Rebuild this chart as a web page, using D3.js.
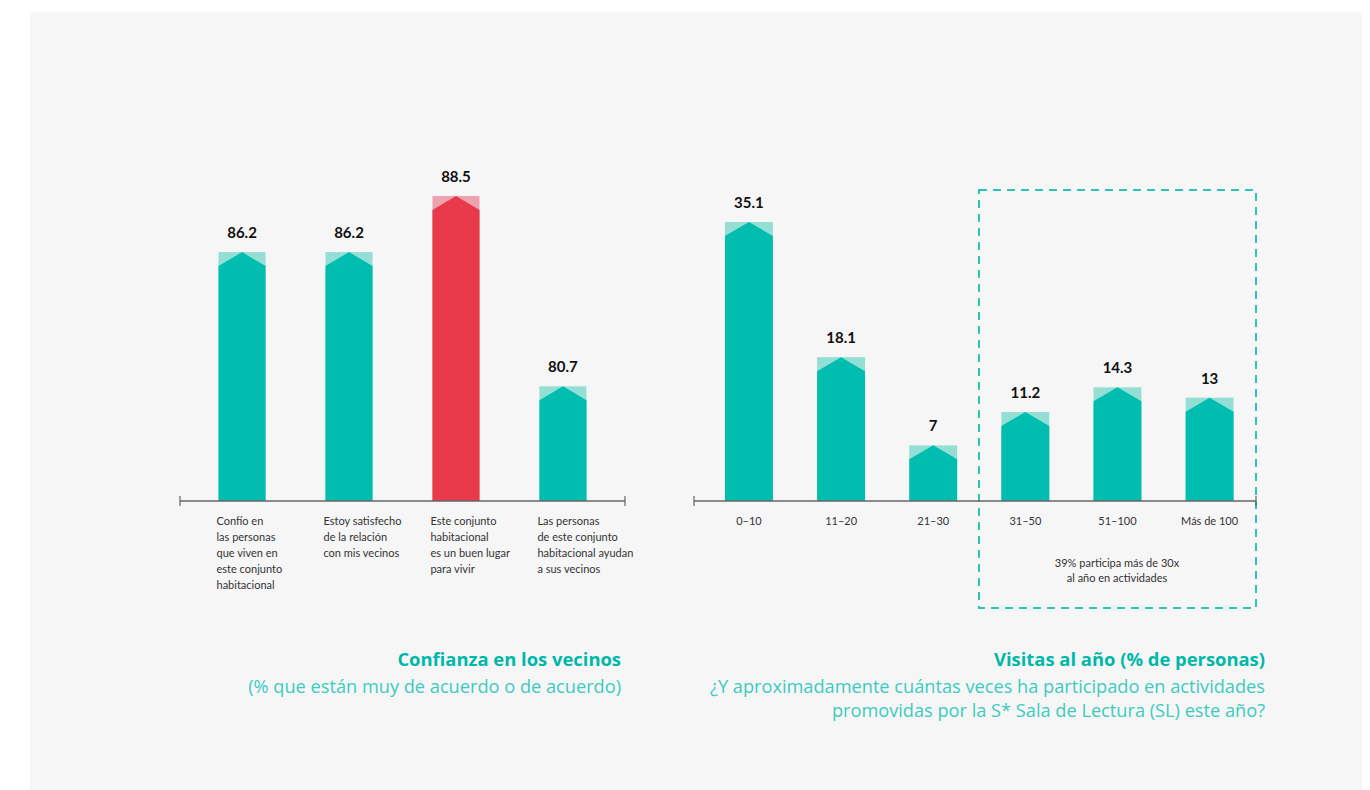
<!DOCTYPE html>
<html>
<head>
<meta charset="utf-8">
<script src="https://cdn.jsdelivr.net/npm/d3@7"></script>
<style>
  body { margin: 0; background: #fff; }
  svg { display: block; font-family: Lato, "Open Sans", sans-serif; }
</style>
</head>
<body>
<div id="chart"></div>
<script>
// datos - confianza
const confCats = [
  ["Confío en", "las personas", "que viven en", "este conjunto", "habitacional"],
  ["Estoy satisfecho", "de la relación", "con mis vecinos"],
  ["Este conjunto", "habitacional", "es un buen lugar", "para vivir"],
  ["Las personas", "de este conjunto", "habitacional ayudan", "a sus vecinos"]
];
const confVals = [86.2, 86.2, 88.5, 80.7];
const confHighlight = [false, false, true, false];

// datos - visitas
const visCats = ["0–10", "11–20", "21–30", "31–50", "51–100", "Más de 100"];
const visVals = [35.1, 18.1, 7, 11.2, 14.3, 13];

const width = 1370, height = 790;
const teal = "#00bdb0", tealLight = "#93dfd6";
const red = "#e83a4b", redLight = "#eca3ad";
const baseY = 501;

const svg = d3.select("#chart").append("svg")
  .attr("width", width).attr("height", height);

// fondo
svg.append("rect").attr("x", 30).attr("y", 12)
  .attr("width", 1332).attr("height", 778).attr("fill", "#f6f6f6");

// dibuja barra con "flecha" arriba
function drawBars(g, data, x, y, colorFn) {
  const bw = x.bandwidth();
  const bars = g.selectAll("g.bar").data(data).join("g").attr("class", "bar");
  bars.append("rect")
    .attr("x", d => x(d.i)).attr("y", d => y(d.v))
    .attr("width", bw).attr("height", d => baseY - y(d.v))
    .attr("fill", d => colorFn(d)[1]);
  bars.append("path")
    .attr("d", d => {
      const x0 = x(d.i), x1 = x0 + bw, t = y(d.v), c = 14;
      return `M${x0},${baseY}L${x0},${t + c}L${x0 + bw / 2},${t}L${x1},${t + c}L${x1},${baseY}Z`;
    })
    .attr("fill", d => colorFn(d)[0]);
  bars.append("text")
    .attr("x", d => x(d.i) + bw / 2).attr("y", d => y(d.v) - 14)
    .attr("text-anchor", "middle")
    .attr("font-size", 15).attr("font-weight", 700).attr("fill", "#111")
    .text(d => d.v);
}

function drawAxis(g, x0, x1) {
  g.append("line").attr("x1", x0).attr("x2", x1).attr("y1", baseY).attr("y2", baseY)
    .attr("stroke", "#666").attr("stroke-width", 1.5);
  [x0, x1].forEach(xx => g.append("line")
    .attr("x1", xx).attr("x2", xx).attr("y1", baseY - 5).attr("y2", baseY + 5)
    .attr("stroke", "#666").attr("stroke-width", 1.2));
}

// ---- grafico izquierdo
const gL = svg.append("g");
const xL = d3.scaleBand().domain(d3.range(confVals.length)).range([180, 625])
  .paddingInner(0.56).paddingOuter(0.36);
const yL = d3.scaleLinear().domain([76, 88.5]).range([baseY, 196]);
drawBars(gL, confVals.map((v, i) => ({ v, i })), xL, yL,
  d => confHighlight[d.i] ? [red, redLight] : [teal, tealLight]);
drawAxis(gL, 180, 625);

gL.selectAll("text.cat").data(confCats).join("text")
  .attr("class", "cat")
  .attr("x", (d, i) => xL(i) - 2)
  .attr("y", 525)
  .attr("font-size", 11).attr("fill", "#333")
  .selectAll("tspan").data(d => d).join("tspan")
  .attr("x", function () { return d3.select(this.parentNode).attr("x"); })
  .attr("dy", (d, i) => i === 0 ? 0 : 16)
  .text(d => d);

// ---- grafico derecho
const gR = svg.append("g");
const xR = d3.scaleBand().domain(d3.range(visVals.length)).range([694, 1256])
  .paddingInner(0.48).paddingOuter(0.29).align(0.58);
const yR = d3.scaleLinear().domain([0, 35.1]).range([baseY, 222]);

// recuadro punteado
gR.append("rect").attr("x", 979).attr("y", 190).attr("width", 277).attr("height", 418)
  .attr("fill", "none").attr("stroke", "#2cc4b8").attr("stroke-width", 2)
  .attr("stroke-dasharray", "8,6");

drawBars(gR, visVals.map((v, i) => ({ v, i })), xR, yR, () => [teal, tealLight]);
drawAxis(gR, 694, 1256);

gR.selectAll("text.cat").data(visCats).join("text")
  .attr("class", "cat")
  .attr("x", (d, i) => xR(i) + xR.bandwidth() / 2)
  .attr("y", 525).attr("text-anchor", "middle")
  .attr("font-size", 11).attr("fill", "#333")
  .text(d => d);

const note = gR.append("text").attr("text-anchor", "middle")
  .attr("font-size", 11).attr("fill", "#333");
note.append("tspan").attr("x", 1117).attr("y", 567).text("39% participa más de 30x");
note.append("tspan").attr("x", 1117).attr("y", 582).text("al año en actividades");

// ---- titulos
function title(x, lines) {
  const t = svg.append("text").attr("text-anchor", "end")
    .style("font-family", "'Open Sans', sans-serif");
  t.append("tspan").attr("x", x).attr("y", 666)
    .attr("font-size", 18.4).attr("font-weight", 700).attr("fill", "#00b8aa")
    .text(lines[0]);
  lines.slice(1).forEach((l, i) => t.append("tspan").attr("x", x).attr("y", 693 + i * 24)
    .attr("font-size", 18.2).attr("fill", "#3ccbbf").text(l));
}
title(621, ["Confianza en los vecinos", "(% que están muy de acuerdo o de acuerdo)"]);
title(1265, ["Visitas al año (% de personas)",
  "¿Y aproximadamente cuántas veces ha participado en actividades",
  "promovidas por la S* Sala de Lectura (SL) este año?"]);
</script>
</body>
</html>
